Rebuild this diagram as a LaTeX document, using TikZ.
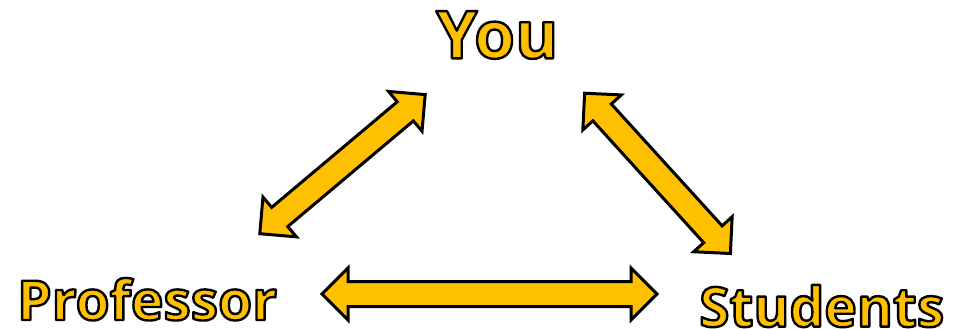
\documentclass[tikz,border=0pt]{standalone}
\usepackage{fontspec}
\setmainfont{Open Sans}[BoldFont={* Bold}, Kerning=Off]
\usetikzlibrary{calc}
\definecolor{gold}{HTML}{FFC000}
\newcommand\outlinedtext[1]{\special{pdf:literal direct 2 Tr 2.4 w 0 0 0 RG 1 j}#1\special{pdf:literal direct 0 Tr}}
\tikzset{
  label text/.style={anchor=base west, inner sep=0pt, font=\bfseries\fontsize{55}{55}\selectfont, text=gold},
  big label/.style={label text, font=\bfseries\fontsize{66}{66}\selectfont},
  blockarrow/.style={draw=black, fill=gold, line width=3pt, line join=miter},
}
% double block arrow between two named coordinates
\newcommand\dblblock[2]{%
  \path[blockarrow] (#1)
    -- ($(#1)!36.77pt!45:(#2)$) -- ($(#1)!28.85pt!25.68:(#2)$)
    -- ($(#2)!28.85pt!-25.68:(#1)$) -- ($(#2)!36.77pt!-45:(#1)$)
    -- (#2)
    -- ($(#2)!36.77pt!45:(#1)$) -- ($(#2)!28.85pt!25.68:(#1)$)
    -- ($(#1)!28.85pt!-25.68:(#2)$) -- ($(#1)!36.77pt!-45:(#2)$)
    -- cycle;}
\begin{document}
\begin{tikzpicture}[x=1pt,y=-1pt]
\useasboundingbox (0,0) rectangle (961,329);
\node[big label] (you) at (436,58.3) {\outlinedtext{You}};
\node[label text] (prof) at (17,320) {\outlinedtext{Professor}};
\node[label text] (stud) at (699,326.7) {\outlinedtext{Students}};
\coordinate (pb) at (322,294);
\coordinate (sb) at (657,294);
\coordinate (yl) at (425.2,94.6);
\coordinate (pt) at (259.8,233.7);
\coordinate (yr) at (584.6,93.2);
\coordinate (st) at (730.4,253.5);
\dblblock{yl}{pt}
\dblblock{yr}{st}
\dblblock{pb}{sb}
\end{tikzpicture}
\end{document}
